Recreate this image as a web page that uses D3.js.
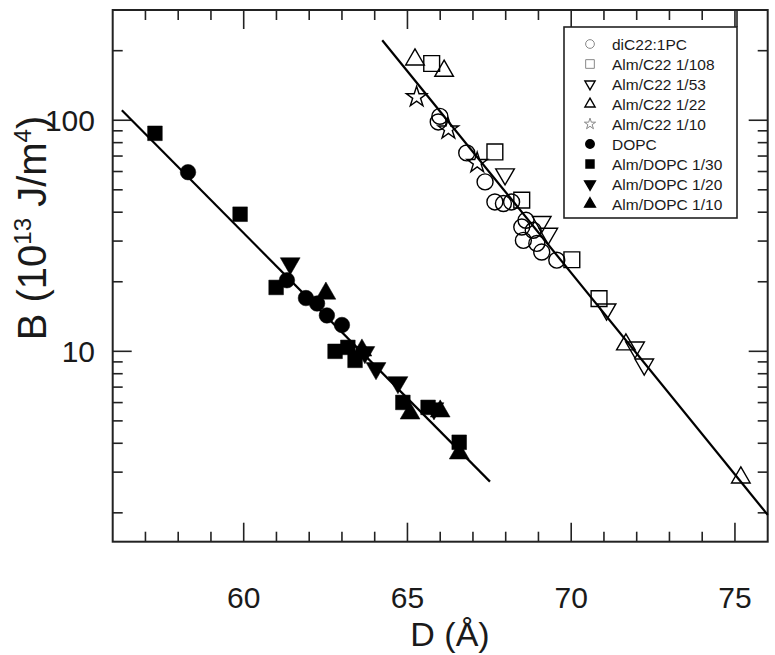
<!DOCTYPE html>
<html>
<head>
<meta charset="utf-8">
<script src="https://cdn.jsdelivr.net/npm/d3@7"></script>
<style>
  body { margin: 0; background: #fff; }
  text { font-family: "Liberation Sans", Arial, sans-serif; fill: #1a1a1a; }
</style>
</head>
<body>
<svg id="chart"></svg>
<script>
// D (Å), B (10^13 J/m^4)
const diC22 = [[65.99, 104], [65.94, 98.3], [66.81, 72.2], [67.37, 54.1], [67.67, 44.3], [67.93, 43.6],
  [68.18, 44.3], [68.62, 36.9], [68.49, 34.5], [68.84, 33.4], [68.54, 30.2], [68.95, 29.3],
  [69.10, 26.9], [69.56, 24.8]];
const almC22_108 = [[65.74, 176], [67.67, 72.9], [68.49, 45.1], [70.02, 24.9], [70.85, 16.9]];
const almC22_53 = [[67.98, 58.4], [69.10, 36.3], [69.30, 32.3], [71.08, 15.2], [71.95, 10.4], [72.23, 8.78]];
const almC22_22 = [[65.23, 183], [66.12, 163.5], [71.67, 10.7], [75.18, 2.84]];
const almC22_10 = [[65.28, 126], [66.25, 91.4], [67.13, 65.4]];
const dopc = [[58.30, 59.6], [61.32, 20.3], [61.90, 17.0], [62.24, 16.1], [62.54, 14.3], [63.00, 13.0]];
const almDOPC_30 = [[57.29, 87.8], [59.89, 39.2], [60.99, 18.9], [62.79, 10.0], [63.18, 10.4], [63.40, 9.14],
  [64.86, 6.01], [65.63, 5.72], [66.58, 4.04]];
const almDOPC_20 = [[61.42, 24.0], [63.70, 9.9], [64.04, 8.44], [64.71, 7.34], [65.81, 5.66]];
const almDOPC_10 = [[62.51, 17.8], [63.61, 10.1], [65.08, 5.39], [66.00, 5.50], [66.58, 3.62]];

// straight fits (log B linear in D)
const fitDOPC = [[56.28, 110.5], [67.52, 2.73]];
const fitC22 = [[64.23, 222], [76.0, 1.96]];

const xTicks = [60, 65, 70, 75];
const yTicks = [10, 100];

const W = 775, H = 655;
const svg = d3.select("#chart").attr("width", W).attr("height", H);
svg.append("rect").attr("width", W).attr("height", H).attr("fill", "#fff");

const L = 112.7, R = 767.7, T = 10, B = 541.7;
const x = d3.scaleLinear().domain([56, 76]).range([L, R]);
const y = d3.scaleLog().domain([1.5, 300]).range([B, T]);

const series = [
  { name: "diC22:1PC", data: diC22, type: d3.symbolCircle, size: 200, fill: false, rot: 0 },
  { name: "Alm/C22 1/108", data: almC22_108, type: d3.symbolSquare, size: 250, fill: false, rot: 0 },
  { name: "Alm/C22 1/53", data: almC22_53, type: d3.symbolTriangle, size: 150, fill: false, rot: 180 },
  { name: "Alm/C22 1/22", data: almC22_22, type: d3.symbolTriangle, size: 150, fill: false, rot: 0 },
  { name: "Alm/C22 1/10", data: almC22_10, type: d3.symbolStar, size: 130, fill: false, rot: 0 },
  { name: "DOPC", data: dopc, type: d3.symbolCircle, size: 190, fill: true, rot: 0 },
  { name: "Alm/DOPC 1/30", data: almDOPC_30, type: d3.symbolSquare, size: 215, fill: true, rot: 0 },
  { name: "Alm/DOPC 1/20", data: almDOPC_20, type: d3.symbolTriangle, size: 170, fill: true, rot: 180 },
  { name: "Alm/DOPC 1/10", data: almDOPC_10, type: d3.symbolTriangle, size: 170, fill: true, rot: 0 }
];

// ticks on all four sides, pointing in
const minorX = d3.range(57, 76);
const minorY = [];
[1, 10, 100].forEach(d => d3.range(2, 10).forEach(k => {
  const v = d * k;
  if (v >= 1.5 && v <= 300 && v !== 10 && v !== 100) minorY.push(v);
}));
const tk = svg.append("g").attr("stroke", "#222").attr("stroke-width", 1.6);
minorX.forEach(v => {
  const len = xTicks.includes(v) ? 19 : 10;
  tk.append("line").attr("x1", x(v)).attr("x2", x(v)).attr("y1", B).attr("y2", B - len);
  tk.append("line").attr("x1", x(v)).attr("x2", x(v)).attr("y1", T).attr("y2", T + len);
});
minorY.concat(yTicks).forEach(v => {
  const len = yTicks.includes(v) ? 19 : 10;
  tk.append("line").attr("y1", y(v)).attr("y2", y(v)).attr("x1", L).attr("x2", L + len);
  tk.append("line").attr("y1", y(v)).attr("y2", y(v)).attr("x1", R).attr("x2", R - len);
});

svg.append("rect").attr("x", L).attr("y", T).attr("width", R - L).attr("height", B - T)
  .attr("fill", "none").attr("stroke", "#222").attr("stroke-width", 2);

svg.selectAll(".xl").data(xTicks).enter().append("text")
  .attr("x", d => x(d)).attr("y", 608).attr("text-anchor", "middle")
  .attr("font-size", 30).text(d => d);
svg.selectAll(".yl").data(yTicks).enter().append("text")
  .attr("x", 95).attr("y", d => y(d) + 10.5).attr("text-anchor", "end")
  .attr("font-size", 30).text(d => d);

svg.append("text").attr("x", 450).attr("y", 646).attr("text-anchor", "middle")
  .attr("font-size", 34).text("D (Å)");

const yt = svg.append("text").attr("transform", "translate(46,228) rotate(-90)")
  .attr("text-anchor", "middle").attr("font-size", 40);
yt.append("tspan").text("B (10");
yt.append("tspan").attr("font-size", 24).attr("dy", -15).text("13");
yt.append("tspan").attr("dy", 15).text(" J/m");
yt.append("tspan").attr("font-size", 24).attr("dy", -15).text("4");
yt.append("tspan").attr("dy", 15).text(")");

// fit lines
const line = d3.line().x(d => x(d[0])).y(d => y(d[1]));
[fitDOPC, fitC22].forEach(f => svg.append("path").attr("d", line(f))
  .attr("fill", "none").attr("stroke", "#000").attr("stroke-width", 2.2));

// points
series.forEach(s => {
  const sym = d3.symbol().type(s.type).size(s.size);
  svg.append("g").selectAll("path").data(s.data).enter().append("path")
    .attr("d", sym)
    .attr("transform", d => `translate(${x(d[0])},${y(d[1])}) rotate(${s.rot})`)
    .attr("fill", s.fill ? "#000" : "none")
    .attr("stroke", "#000").attr("stroke-width", s.fill ? 0.5 : 1.4);
});

// legend
svg.append("line").attr("x1", 737).attr("x2", 737).attr("y1", T).attr("y2", 27)
  .attr("stroke", "#222").attr("stroke-width", 1.6);
svg.append("rect").attr("x", 564).attr("y", 27).attr("width", 173).attr("height", 191)
  .attr("fill", "#fff").attr("stroke", "#222").attr("stroke-width", 1.6);
const lg = svg.append("g");
series.forEach((s, i) => {
  const cy = 44 + i * 20;
  const light = !s.fill && (s.type === d3.symbolCircle || s.type === d3.symbolSquare || s.type === d3.symbolStar);
  lg.append("path").attr("d", d3.symbol().type(s.type).size(s.size * 0.3))
    .attr("transform", `translate(590,${cy}) rotate(${s.rot})`)
    .attr("fill", s.fill ? "#000" : "none")
    .attr("stroke", light ? "#888" : "#000").attr("stroke-width", light ? 1 : 1.4);
  lg.append("text").attr("x", 612).attr("y", cy + 5.5).attr("font-size", 15.5)
    .attr("fill", "#222").text(s.name);
});
</script>
</body>
</html>
